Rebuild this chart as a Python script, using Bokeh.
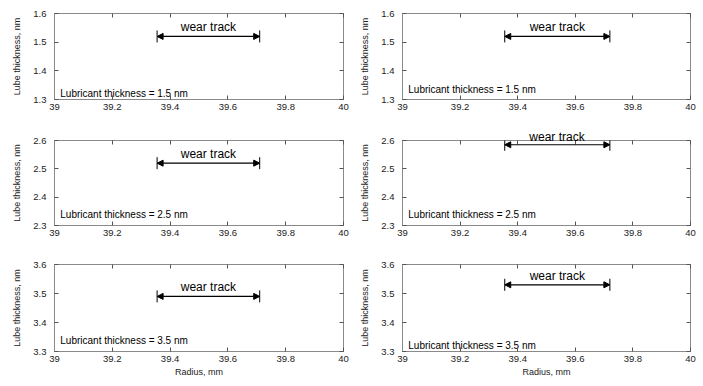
from bokeh.plotting import figure
from bokeh.layouts import column, row
from bokeh.models import (Range1d, FixedTicker, LinearAxis, Arrow, NormalHead,
                          ColumnDataSource, Label, Title)
from bokeh.core.properties import value
from bokeh.embed import file_html
from bokeh.resources import INLINE

# ---- data ----
x_ticks = [39.0, 39.2, 39.4, 39.6, 39.8, 40.0]
x_tick_labels = ["39", "39.2", "39.4", "39.6", "39.8", "40"]
lube_nominal = [1.5, 1.5, 2.5, 2.5, 3.5, 3.5]
y_low = [1.3, 1.3, 2.3, 2.3, 3.3, 3.3]
y_high = [1.6, 1.6, 2.6, 2.6, 3.6, 3.6]
y_ticks = [
    [1.3, 1.4, 1.5, 1.6], [1.3, 1.4, 1.5, 1.6],
    [2.3, 2.4, 2.5, 2.6], [2.3, 2.4, 2.5, 2.6],
    [3.3, 3.4, 3.5, 3.6], [3.3, 3.4, 3.5, 3.6],
]
track_start = [39.355, 39.355, 39.355, 39.355, 39.355, 39.355]
track_end = [39.71, 39.72, 39.71, 39.72, 39.71, 39.72]
track_y = [1.52, 1.52, 2.52, 2.585, 3.49, 3.53]
note_x = [39.02, 39.02, 39.02, 39.02, 39.02, 39.02]
note_y = [1.322, 1.335, 2.34, 2.34, 3.338, 3.322]

FONT = "Liberation Sans"
FRAME = "#8a8a8a"
LABEL_W = 56  # approx. pixel width of "wear track" at 12px

col_w = [350, 353]
col_border = [(54, 7), (52, 13)]
row_h = [125, 125, 136]
row_border = [(13, 26), (15, 25), (14, 35)]


def make_panel(i):
    r, c = divmod(i, 2)
    bl, br = col_border[c]
    bt, bb = row_border[r]
    p = figure(width=col_w[c], height=row_h[r],
               x_range=Range1d(39, 40), y_range=Range1d(y_low[i], y_high[i]),
               output_backend="svg", toolbar_location=None,
               min_border_left=bl, min_border_right=br,
               min_border_top=bt, min_border_bottom=bb)
    p.xgrid.visible = False
    p.ygrid.visible = False
    p.outline_line_color = FRAME
    p.background_fill_color = "white"
    p.border_fill_color = "white"

    ylabels = {t: ("%.1f" % t) for t in y_ticks[i]}
    xlabels = {t: l for t, l in zip(x_ticks, x_tick_labels)}

    for ax in p.xaxis:
        ax.ticker = FixedTicker(ticks=x_ticks)
        ax.major_label_overrides = xlabels
        if r == 2:
            ax.axis_label = "Radius, mm"
    for ax in p.yaxis:
        ax.ticker = FixedTicker(ticks=y_ticks[i])
        ax.major_label_overrides = ylabels
        ax.axis_label = "Lube thickness, nm"

    for ax in list(p.xaxis) + list(p.yaxis):
        ax.axis_line_color = FRAME
        ax.major_tick_in = 4
        ax.major_tick_out = 0
        ax.major_tick_line_color = "#555555"
        ax.minor_tick_line_color = None
        ax.major_label_text_font = FONT
        ax.major_label_text_font_size = "9.5px"
        ax.major_label_text_color = "#222222"
        ax.axis_label_text_font = FONT
        ax.axis_label_text_font_size = "9px"
        ax.axis_label_text_font_style = "normal"
        ax.axis_label_text_color = "#222222"
    for ax in p.xaxis:
        ax.major_label_standoff = 4
        ax.axis_label_standoff = 2
    for ax in p.yaxis:
        ax.major_label_standoff = 8
        ax.axis_label_standoff = 8

    # mirrored tick axes (top and right), ticks only, no labels
    top = LinearAxis(ticker=FixedTicker(ticks=x_ticks),
                     major_label_overrides={t: "" for t in x_ticks},
                     axis_line_color=None, major_tick_in=4, major_tick_out=0,
                     major_tick_line_color="#555555", minor_tick_line_color=None,
                     major_label_standoff=0, major_label_text_font_size="1px")
    right = LinearAxis(ticker=FixedTicker(ticks=y_ticks[i]),
                       major_label_overrides={t: "" for t in y_ticks[i]},
                       axis_line_color=None, major_tick_in=4, major_tick_out=0,
                       major_tick_line_color="#555555", minor_tick_line_color=None,
                       major_label_standoff=0, major_label_text_font_size="1px")
    p.add_layout(top, "above")
    p.add_layout(right, "right")

    src = ColumnDataSource(dict(
        xs=[track_start[i]], xe=[track_end[i]], y=[track_y[i]],
    ))
    p.add_layout(Arrow(start=NormalHead(size=6, fill_color="black", line_color="black"),
                       end=NormalHead(size=6, fill_color="black", line_color="black"),
                       x_start="xs", y_start="y", x_end="xe", y_end="y",
                       line_color="black", line_width=1.2, source=src))
    caps = ColumnDataSource(dict(x=[track_start[i], track_end[i]], y=[track_y[i], track_y[i]]))
    p.scatter("x", "y", source=caps, marker="dash", angle=1.5708, size=12,
              line_color="black", line_width=1)

    xm = (track_start[i] + track_end[i]) / 2
    frac_from_top = (y_high[i] - track_y[i]) / (y_high[i] - y_low[i])
    if frac_from_top > 0.15:
        p.add_layout(Label(x=xm, y=track_y[i], text="wear track", text_align="center",
                           text_baseline="bottom", y_offset=2, text_font=FONT,
                           text_font_size="12px", text_color="black"))
    else:
        # label would cross the top of the frame: draw it in the top border instead
        frame_w = col_w[c] - bl - br
        p.add_layout(Title(text="wear track", align="left",
                           offset=(xm - 39.0) * frame_w - LABEL_W / 2, standoff=-6,
                           text_font=FONT, text_font_size="12px",
                           text_font_style="normal", text_color="black"), "above")

    nsrc = ColumnDataSource(dict(x=[note_x[i]], y=[note_y[i]],
                                 t=["Lubricant thickness = %.1f nm" % lube_nominal[i]]))
    p.text("x", "y", text="t", source=nsrc, text_align="left", text_baseline="middle",
           text_font=value(FONT), text_font_size="10px", text_color="black")
    return p


panels = [make_panel(i) for i in range(6)]
layout = column(row(panels[0], panels[1]), row(panels[2], panels[3]), row(panels[4], panels[5]))

open("out.html", "w").write(file_html(layout, INLINE))
